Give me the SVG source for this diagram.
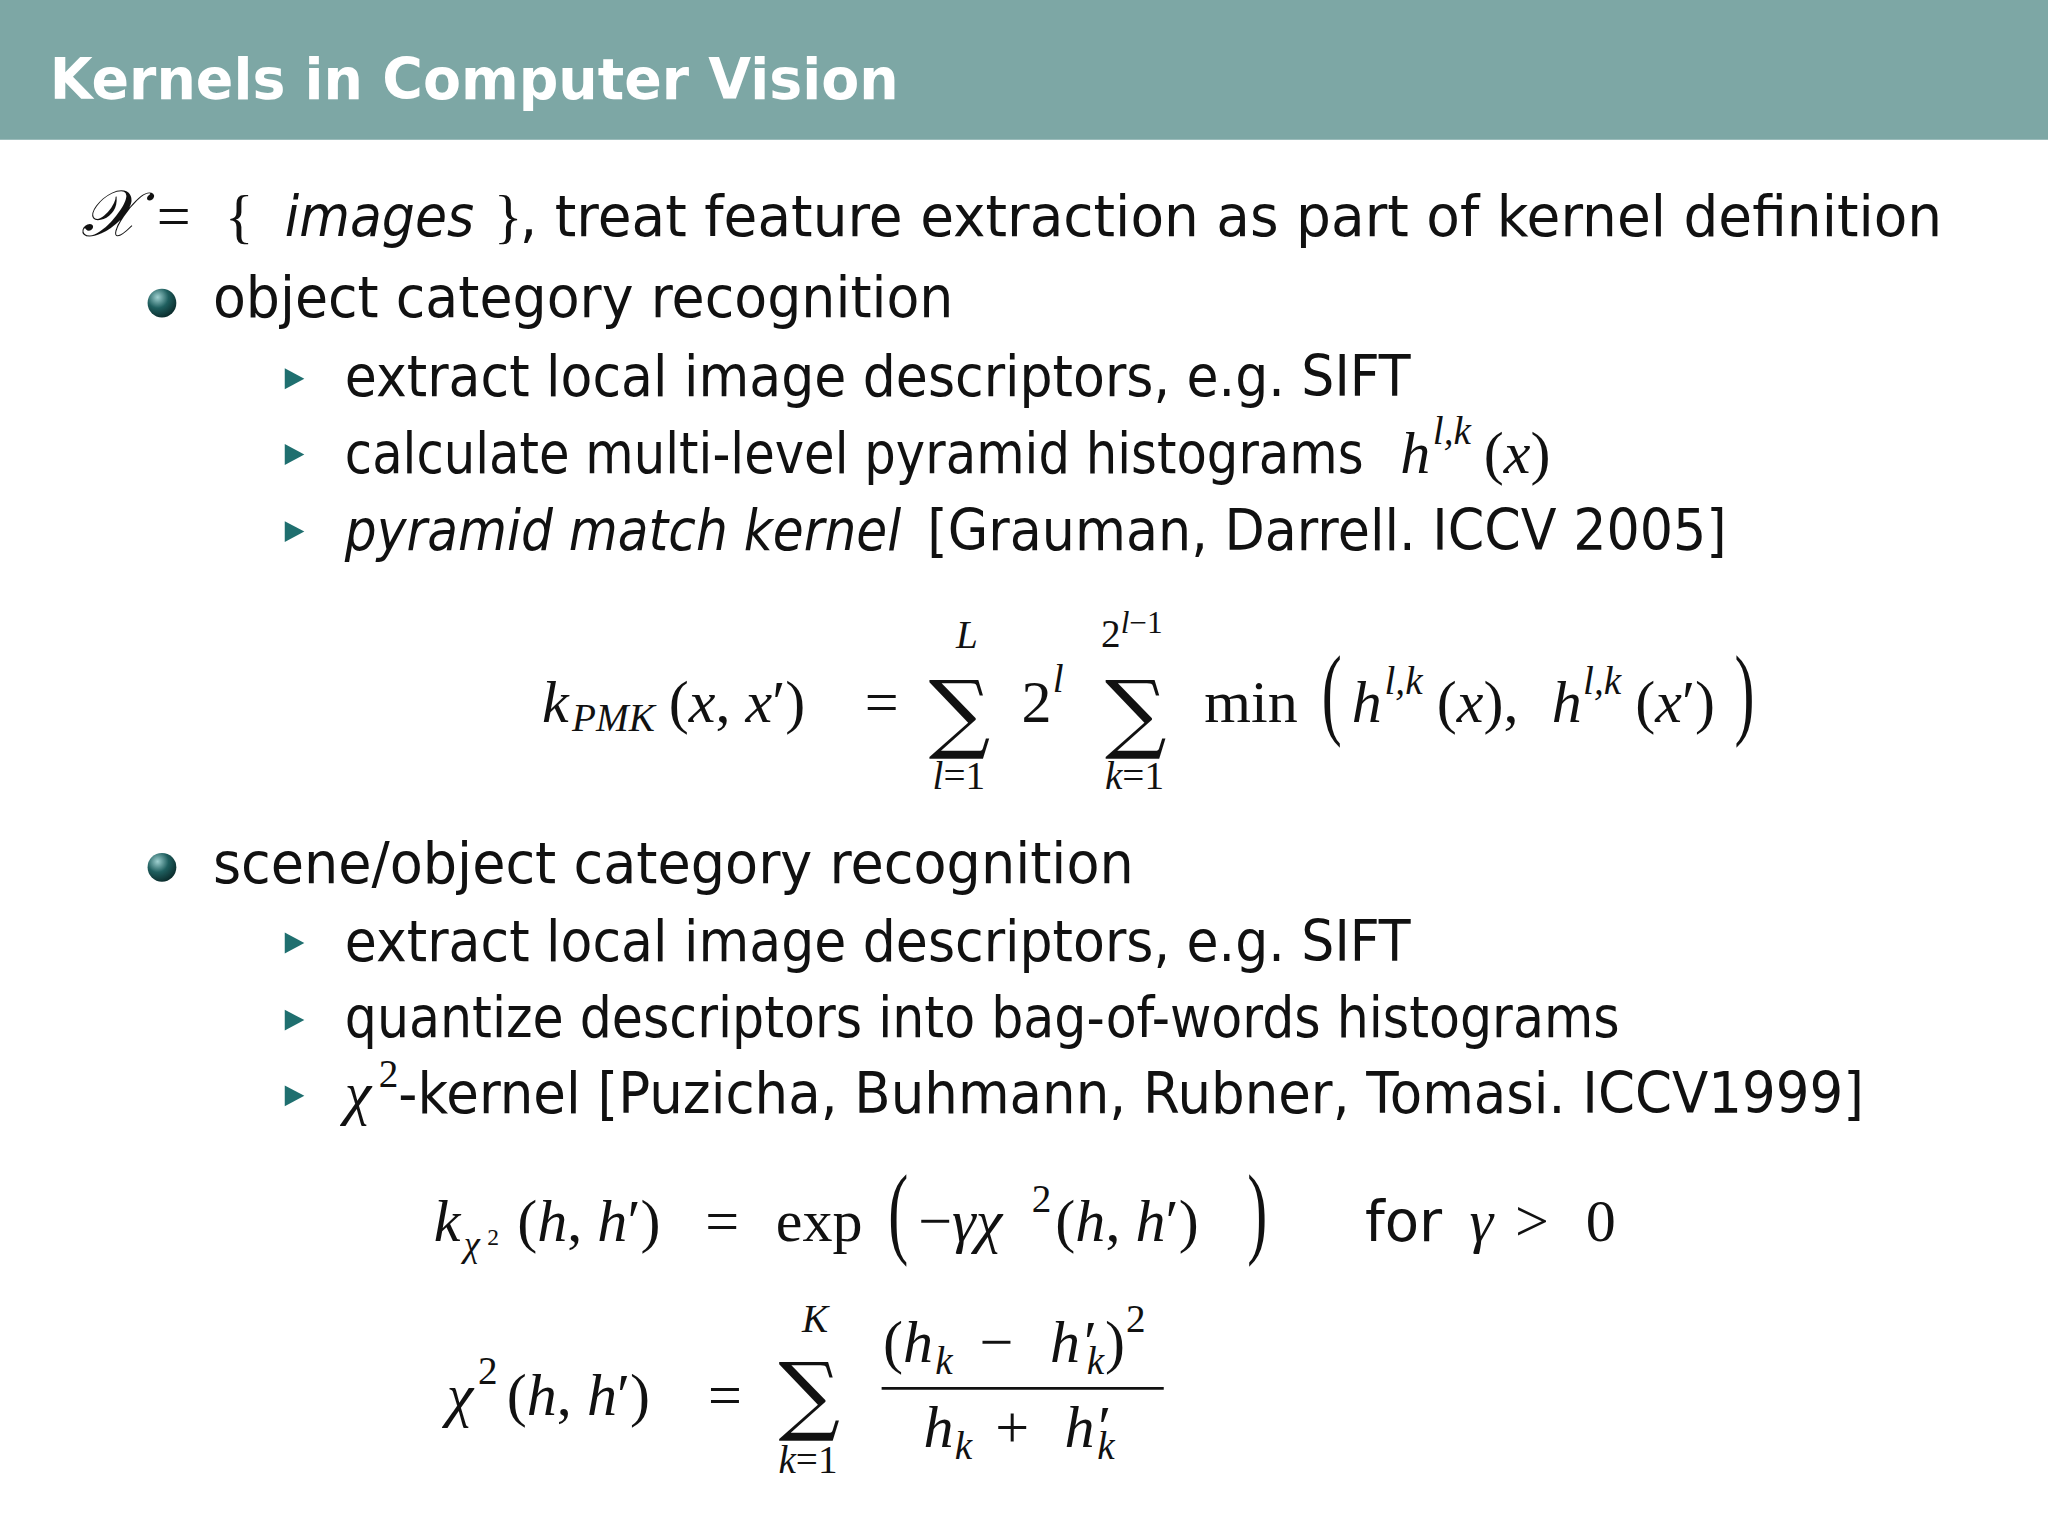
<svg xmlns="http://www.w3.org/2000/svg" width="2048" height="1536" viewBox="0 0 2048 1536">
<style>
.t{font-family:"DejaVu Sans","Liberation Sans",sans-serif;font-size:43px;fill:#111}
.m{font-family:"Liberation Serif",serif;font-size:46px;fill:#111}
.i{font-style:italic}
.s{font-size:30px}
.sum{font-family:"DejaVu Serif",serif;font-size:66px;fill:#111}
.tri{fill:#1f6f6f}
</style>
<defs>
<radialGradient id="ball" cx="0.35" cy="0.3" r="0.75">
<stop offset="0" stop-color="#9fd0d0"/><stop offset="0.5" stop-color="#1f5f5f"/><stop offset="1" stop-color="#0a2a2a"/>
</radialGradient>
</defs>
<rect width="2048" height="1536" fill="#fff"/>
<g transform="scale(1.30612)">
<g id="header">
<rect width="1568" height="107" fill="#7da7a5"/>
<text x="38" y="76" font-family="DejaVu Sans,sans-serif" font-weight="600" font-size="44" fill="#fff" textLength="650" lengthAdjust="spacingAndGlyphs">Kernels in Computer Vision</text>
</g>
<g id="line1">
<text class="m i" x="62" y="181" style="font-size:50px">𝒳</text>
<text class="m" x="120" y="181">=</text>
<text class="m" x="172" y="181">{</text>
<text class="t i" x="218" y="181" textLength="145" lengthAdjust="spacingAndGlyphs">images</text>
<text class="m" x="378" y="181">}</text>
<text class="t" x="398" y="181" textLength="1089" lengthAdjust="spacingAndGlyphs">, treat feature extraction as part of kernel definition</text>
</g>
<g id="bullet1">
<circle cx="124" cy="232" r="11" fill="url(#ball)"/>
<text class="t" x="163" y="243" textLength="567" lengthAdjust="spacingAndGlyphs">object category recognition</text>
<polygon class="tri" points="218,282 218,298 233,290"/>
<text class="t" x="264" y="303" textLength="816" lengthAdjust="spacingAndGlyphs">extract local image descriptors, e.g. SIFT</text>
<polygon class="tri" points="218,340 218,356 233,348"/>
<text class="t" x="264" y="362" textLength="780" lengthAdjust="spacingAndGlyphs">calculate multi-level pyramid histograms</text>
<text class="m i" x="1072" y="362">h</text><text class="m i s" x="1097" y="340">l,k</text><text class="m" x="1136" y="362">(<tspan class="i">x</tspan>)</text>
<polygon class="tri" points="218,399 218,415 233,407"/>
<text class="t i" x="264" y="421" textLength="426" lengthAdjust="spacingAndGlyphs">pyramid match kernel</text>
<text class="t" x="710" y="421" textLength="612" lengthAdjust="spacingAndGlyphs">[Grauman, Darrell. ICCV 2005]</text>
</g>
<g id="formula1">
<text class="m i" x="415" y="553">k</text><text class="m i s" x="438" y="560">PMK</text>
<text class="m" x="512" y="553">(<tspan class="i">x</tspan>, <tspan class="i">x</tspan>′)</text>
<text class="m" x="662" y="553">=</text>
<text class="m i s" x="732" y="496">L</text>
<text class="sum" x="711" y="568">∑</text>
<text class="m i s" x="714" y="604">l<tspan font-style="normal">=1</tspan></text>
<text class="m" x="782" y="553">2</text><text class="m i s" x="806" y="530">l</text>
<text class="m s" x="843" y="495">2<tspan class="i" font-size="24" dy="-10">l</tspan><tspan font-size="24">−1</tspan></text>
<text class="sum" x="846" y="568">∑</text>
<text class="m i s" x="846" y="604">k<tspan font-style="normal">=1</tspan></text>
<text class="m" x="922" y="553">min</text>
<text class="m" transform="translate(1012,556) scale(1,1.7)">(</text>
<text class="m i" x="1035" y="553">h</text><text class="m i s" x="1060" y="531">l,k</text>
<text class="m" x="1100" y="553">(<tspan class="i">x</tspan>),</text>
<text class="m i" x="1188" y="553">h</text><text class="m i s" x="1212" y="531">l,k</text>
<text class="m" x="1252" y="553">(<tspan class="i">x</tspan>′)</text>
<text class="m" transform="translate(1328,556) scale(1,1.7)">)</text>
</g>
<g id="bullet2">
<circle cx="124" cy="664" r="11" fill="url(#ball)"/>
<text class="t" x="163" y="676" textLength="705" lengthAdjust="spacingAndGlyphs">scene/object category recognition</text>
<polygon class="tri" points="218,714 218,730 233,722"/>
<text class="t" x="264" y="736" textLength="816" lengthAdjust="spacingAndGlyphs">extract local image descriptors, e.g. SIFT</text>
<polygon class="tri" points="218,773 218,789 233,781"/>
<text class="t" x="264" y="794" textLength="976" lengthAdjust="spacingAndGlyphs">quantize descriptors into bag-of-words histograms</text>
<polygon class="tri" points="218,831 218,847 233,839"/>
<text class="m i" x="264" y="852">χ</text><text class="m s" x="290" y="832">2</text>
<text class="t" x="305" y="852" textLength="1122" lengthAdjust="spacingAndGlyphs">-kernel [Puzicha, Buhmann, Rubner, Tomasi. ICCV1999]</text>
</g>
<g id="formula2">
<text class="m i" x="332" y="950">k</text><text class="m i" style="font-size:28px" x="355" y="962">χ</text><text class="m" style="font-size:18px" x="373" y="953">2</text>
<text class="m" x="396" y="950">(<tspan class="i">h</tspan>, <tspan class="i">h</tspan>′)</text>
<text class="m" x="540" y="950">=</text>
<text class="m" x="594" y="950">exp</text>
<text class="m" transform="translate(680,953) scale(1,1.7)">(</text>
<text class="m" x="703" y="950">−<tspan class="i">γχ</tspan></text>
<text class="m s" x="790" y="928">2</text>
<text class="m" x="808" y="950">(<tspan class="i">h</tspan>, <tspan class="i">h</tspan>′)</text>
<text class="m" transform="translate(955,953) scale(1,1.7)">)</text>
<text class="t" x="1045" y="950">for</text>
<text class="m i" x="1125" y="950">γ</text>
<text class="m" x="1160" y="950">&gt;</text>
<text class="m" x="1214" y="950">0</text>
</g>
<g id="formula3">
<text class="m i" x="342" y="1083">χ</text><text class="m s" x="366" y="1060">2</text>
<text class="m" x="388" y="1083">(<tspan class="i">h</tspan>, <tspan class="i">h</tspan>′)</text>
<text class="m" x="542" y="1083">=</text>
<text class="m i s" x="614" y="1020">K</text>
<text class="sum" x="596" y="1090">∑</text>
<text class="m i s" x="596" y="1128">k<tspan font-style="normal">=1</tspan></text>
<text class="m" x="676" y="1043">(<tspan class="i">h</tspan></text>
<text class="m i s" x="716" y="1052">k</text>
<text class="m" x="750" y="1043">−</text>
<text class="m i" x="804" y="1043">h′</text>
<text class="m i s" x="832" y="1052">k</text>
<text class="m" x="846" y="1043">)</text><text class="m s" x="862" y="1020">2</text>
<line x1="675" y1="1063" x2="891" y2="1063" stroke="#111" stroke-width="2"/>
<text class="m i" x="707" y="1108">h</text><text class="m i s" x="731" y="1117">k</text>
<text class="m" x="762" y="1108">+</text>
<text class="m i" x="815" y="1108">h′</text>
<text class="m i s" x="840" y="1117">k</text>
</g>
</g>
</svg>
